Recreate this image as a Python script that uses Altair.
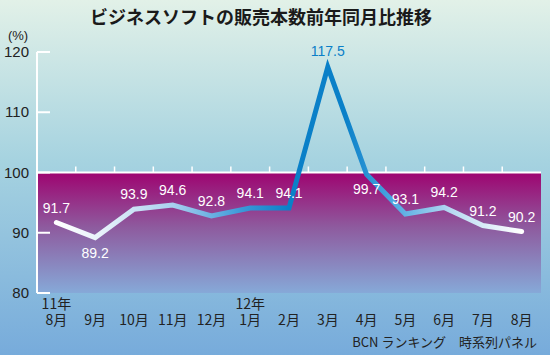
import json
import altair as alt
import pandas as pd

# ---- data ----
months = ["11年8月", "9月", "10月", "11月", "12月", "12年1月", "2月",
          "3月", "4月", "5月", "6月", "7月", "8月"]
month_labels = ["8月", "9月", "10月", "11月", "12月", "1月", "2月",
                "3月", "4月", "5月", "6月", "7月", "8月"]
year_marks = ["11年", "", "", "", "", "12年", "", "", "", "", "", "", ""]
values = [91.7, 89.2, 93.9, 94.6, 92.8, 94.1, 94.1, 117.5, 99.7, 93.1, 94.2, 91.2, 90.2]
y_ticks = [80, 90, 100, 110, 120]
below_months = ["9月", "4月"]
peak_months = ["3月"]
band_top, band_bottom = [100], [80]
title_text = "ビジネスソフトの販売本数前年同月比推移"
unit_text = "(%)"
source_text = "BCN ランキング　時系列パネル"

W, H = 504, 241
PAD = {"left": 37, "top": 52, "right": 9, "bottom": 62}
INK = "#222222"

df = pd.DataFrame({"month": months, "value": values})
x_scale = alt.Scale(domain=months, paddingInner=0, paddingOuter=0)
y_scale = alt.Scale(domain=[80, 120], nice=False, zero=False)

X = lambda **kw: alt.X("month:N", scale=x_scale, axis=None, **kw)
Y = lambda: alt.Y("value:Q", scale=y_scale, axis=None)

bg_grad = alt.Gradient(
    gradient="linear", x1=0, y1=0, x2=0, y2=1,
    stops=[alt.GradientStop(offset=0, color="#e2f1e8"),
           alt.GradientStop(offset=0.45, color="#a6d3e0"),
           alt.GradientStop(offset=1, color="#77abdb")],
)
band_grad = alt.Gradient(
    gradient="linear", x1=0, y1=0, x2=0, y2=1,
    stops=[alt.GradientStop(offset=0, color="#9e0470"),
           alt.GradientStop(offset=0.45, color="#8e5a9e"),
           alt.GradientStop(offset=1, color="#86a9d8")],
)
line_grad = alt.Gradient(
    gradient="linear", x1=0, y1=0, x2=1, y2=0,
    stops=[alt.GradientStop(offset=0, color="#ffffff"),
           alt.GradientStop(offset=0.1, color="#e6f1fa"),
           alt.GradientStop(offset=0.25, color="#a8d0ef"),
           alt.GradientStop(offset=0.4, color="#3a98d8"),
           alt.GradientStop(offset=0.5, color="#0a80c8"),
           alt.GradientStop(offset=0.62, color="#0a80c8"),
           alt.GradientStop(offset=0.72, color="#4aa6e0"),
           alt.GradientStop(offset=0.85, color="#b8daf2"),
           alt.GradientStop(offset=1, color="#ffffff")],
)

one = pd.DataFrame({"k": [0]})
background = alt.Chart(one).mark_rect(fill=bg_grad).encode(
    x=alt.value(-PAD["left"]), x2=alt.value(W + PAD["right"]),
    y=alt.value(-PAD["top"]), y2=alt.value(H + PAD["bottom"]),
)

band_df = pd.DataFrame({"value": band_top, "value2": band_bottom})
band = alt.Chart(band_df).mark_rect(fill=band_grad).encode(
    x=alt.value(0), x2=alt.value(W), y=Y(), y2="value2:Q",
)
band_line = alt.Chart(band_df).mark_rule(color="white", strokeWidth=2).encode(
    x=alt.value(0), x2=alt.value(W), y=Y(),
)

axis_df = pd.DataFrame({"value": [min(y_ticks)], "value2": [max(y_ticks)]})
y_line = alt.Chart(axis_df).mark_rule(color="white", strokeWidth=2).encode(
    x=alt.value(0), y=Y(), y2="value2:Q",
)
ytick_df = pd.DataFrame({"value": y_ticks})
y_tick_marks = alt.Chart(ytick_df).mark_rule(color="white", strokeWidth=2).encode(
    x=alt.value(0), x2=alt.value(13), y=Y(),
)
y_tick_labels = alt.Chart(ytick_df).mark_text(
    font="Liberation Sans", fontSize=15, color=INK, align="right", baseline="middle"
).encode(x=alt.value(-8), y=Y(), text="value:Q")

tick_df = pd.DataFrame({"month": months[1:], "value": [100] * 12, "value2": [101] * 12})
x_tick_marks = alt.Chart(tick_df).mark_rule(color="white", strokeWidth=1.5).encode(
    x=X(bandPosition=0), y=Y(), y2="value2:Q",
)

# two-line category labels (year over month) as one text item each
month_df = pd.DataFrame({
    "month": months,
    "label": [[yr, m] for yr, m in zip(year_marks, month_labels)],
    "value": [80] * len(months),
})
month_text = alt.Chart(month_df).mark_text(
    font="Noto Sans CJK JP", fontSize=14, color=INK, dy=5, baseline="top", lineHeight=16
).encode(x=X(), y=Y(), text="label:N")

unit = alt.Chart(pd.DataFrame({"t": [unit_text]})).mark_text(
    font="Liberation Sans", fontSize=13, color=INK, baseline="middle"
).encode(x=alt.value(-19), y=alt.value(-16), text="t:N")

source = alt.Chart(pd.DataFrame({"t": [source_text]})).mark_text(
    font="Noto Sans CJK JP", fontSize=13, color=INK, align="right", baseline="middle"
).encode(x=alt.value(W - 4), y=alt.value(H + 50), text="t:N")

line = alt.Chart(df).mark_line(
    stroke=line_grad, strokeWidth=5, strokeCap="round", strokeJoin="miter"
).encode(x=X(sort=months), y=Y())

special = json.dumps(below_months + peak_months, ensure_ascii=False)
below = json.dumps(below_months, ensure_ascii=False)
peak = json.dumps(peak_months, ensure_ascii=False)

def labels(filt, color, dy):
    return alt.Chart(df).transform_filter(filt).mark_text(
        color=color, fontSize=14, font="Liberation Sans", dy=dy, baseline="middle"
    ).encode(x=X(sort=months), y=Y(), text=alt.Text("value:Q", format=".1f"))

lab_above = labels(f"indexof({special}, datum.month) < 0", "white", -14)
lab_below = labels(f"indexof({below}, datum.month) >= 0", "white", 16)
lab_peak = labels(f"indexof({peak}, datum.month) >= 0", "#0a7fc8", -15)

chart = alt.layer(
    background, band, band_line, x_tick_marks, y_line, y_tick_marks, y_tick_labels,
    line, lab_above, lab_below, lab_peak, month_text, unit, source,
).properties(
    width=W, height=H,
    title=alt.TitleParams(
        title_text,
        font="Noto Sans CJK JP", fontSize=18, fontWeight="bold", color="#1a1a1a",
        anchor="middle", dx=-28, offset=0, dy=28, zindex=1,
    ),
    autosize=alt.AutoSizeParams(type="none"),
    padding=PAD,
).configure(background="#a6d3e0").configure_view(stroke=None)

chart.save("out.html", embed_options={"renderer": "svg", "actions": False})
